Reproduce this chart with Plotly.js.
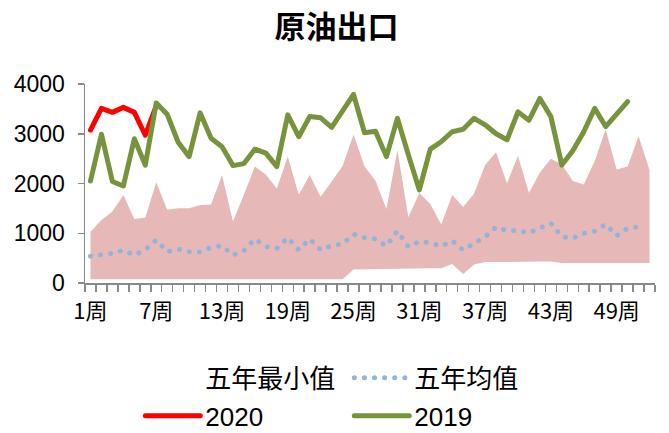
<!DOCTYPE html>
<html><head><meta charset="utf-8">
<script src="https://cdn.plot.ly/plotly-3.0.1.min.js"></script>
<style>
html,body{margin:0;padding:0;background:#fff}
#chart{width:669px;height:433px}
.js-line{stroke-linecap:round;stroke-linejoin:round}
</style></head><body><div id="chart"></div>
<script>
const weeks = [1,2,3,4,5,6,7,8,9,10,11,12,13,14,15,16,17,18,19,20,21,22,23,24,25,26,
  27,28,29,30,31,32,33,34,35,36,37,38,39,40,41,42,43,44,45,46,47,48,49,50,51,52];
const tickWeeks = [1,7,13,19,25,31,37,43,49];
const tickLabels = ['1周','7周','13周','19周','25周','31周','37周','43周','49周'];
const yTicks = [0,1000,2000,3000,4000];

const min5 = [75,75,75,75,75,75,75,75,75,75,75,75,75,75,75,75,75,75,75,75,75,75,75,75,
  270,275,280,285,285,290,290,295,295,380,180,370,420,425,425,430,430,430,430,
  400,400,400,400,395,395,395,400,400];
const max5 = [1030,1265,1435,1770,1285,1315,2025,1470,1505,1505,1570,1580,2170,1235,1780,2340,
  2180,1900,2545,1775,2170,1735,2040,2350,2985,2345,2055,1485,2675,1320,1810,1590,1175,1770,
  1530,1800,2370,2630,2005,2560,1810,2220,2495,2385,2050,1980,2450,3090,2280,2340,2950,2270];
const mean5 = [540,575,595,660,560,670,865,630,680,630,625,715,750,560,650,885,730,695,910,665,
  885,665,750,785,980,910,885,745,1045,730,830,810,735,850,660,800,925,1125,1050,1055,1005,
  1105,1200,930,900,1000,1040,1180,950,1100,1130,null];
const y2020 = [3075,3510,3430,3530,3430,2970,3560];
const y2019 = [2050,2990,2040,1950,2900,2370,3620,3390,2830,2540,3420,2910,2740,2360,2400,2690,
  2610,2340,3380,2940,3345,3320,3130,3440,3790,3020,3050,2540,3310,2575,1870,2690,2840,3040,
  3090,3310,3180,3000,2880,3440,3270,3710,3345,2370,2660,3040,3510,3145,3390,3645];

// category boundaries for the small tick marks under the x axis
const weekBounds = [0.5].concat(weeks.map(w => w + 0.5));

const cjk = 'Noto Sans CJK SC';
const traces = [
  {x: weeks, y: min5, name: '五年最小值', type: 'scatter', mode: 'lines',
   line: {width: 0, color: '#ffffff'}, fill: 'tozeroy', fillcolor: '#ffffff',
   legend: 'legend', hoverinfo: 'skip'},
  {x: weeks, y: max5, name: '五年最大值', type: 'scatter', mode: 'lines',
   line: {width: 0, color: '#E6B9B8'}, fill: 'tonexty', fillcolor: '#E6B9B8',
   showlegend: false, hoverinfo: 'skip'},
  {x: weeks, y: mean5, name: '五年均值', type: 'scatter', mode: 'lines', xaxis: 'x2',
   line: {width: 5, color: '#95B3D7', dash: '0.1px,10px'}, legend: 'legend'},
  {x: weeks.slice(0, y2020.length), y: y2020, name: '2020', type: 'scatter', mode: 'lines',
   xaxis: 'x2', line: {width: 5, color: '#FF0000'}, legend: 'legend2'},
  {x: weeks.slice(0, y2019.length), y: y2019, name: '2019', type: 'scatter', mode: 'lines',
   xaxis: 'x2', line: {width: 5, color: '#77933C'}, legend: 'legend2'}
];

const legendBase = {
  orientation: 'h', x: 0.097, xanchor: 'left', yanchor: 'middle',
  font: {family: 'Liberation Sans, ' + cjk, size: 26, color: '#000'},
  itemwidth: 55, entrywidth: 139, bgcolor: 'rgba(0,0,0,0)', traceorder: 'normal'
};

const layout = {
  width: 669, height: 433,
  margin: {l: 85, r: 14, t: 84, b: 150, autoexpand: false},
  paper_bgcolor: '#fff', plot_bgcolor: '#fff',
  title: {text: '原油出口', x: 0.503, xref: 'container', y: 0.938, yanchor: 'middle',
    font: {family: cjk, size: 31, weight: 'bold', color: '#000'}},
  xaxis: {range: [0.5, 52.5], tickmode: 'array', tickvals: weekBounds,
    showticklabels: false, ticks: 'outside', ticklen: 7, tickcolor: '#898989', tickwidth: 1.5,
    showline: true, linecolor: '#898989', linewidth: 1.5, showgrid: false, zeroline: false},
  xaxis2: {overlaying: 'x', matches: 'x', anchor: 'y', side: 'bottom', range: [0.5, 52.5],
    tickmode: 'array', tickvals: tickWeeks, ticktext: tickLabels, ticks: '',
    showline: false, showgrid: false, zeroline: false, ticklabelstandoff: 13,
    tickfont: {family: 'Liberation Sans Narrow, ' + cjk, size: 22, color: '#000'}},
  yaxis: {range: [0, 4000], tickmode: 'array', tickvals: yTicks, ticks: 'outside', ticklen: 6,
    tickcolor: '#898989', tickwidth: 1.5, showline: true, linecolor: '#898989', linewidth: 1.5,
    showgrid: false, zeroline: false, ticklabelstandoff: 8,
    tickfont: {family: 'Liberation Sans, ' + cjk, size: 23, color: '#000'}},
  legend: Object.assign({}, legendBase, {y: -0.477}),
  legend2: Object.assign({}, legendBase, {y: -0.668}),
  showlegend: true
};

Plotly.newPlot('chart', traces, layout, {displayModeBar: false, staticPlot: true});
</script></body></html>
